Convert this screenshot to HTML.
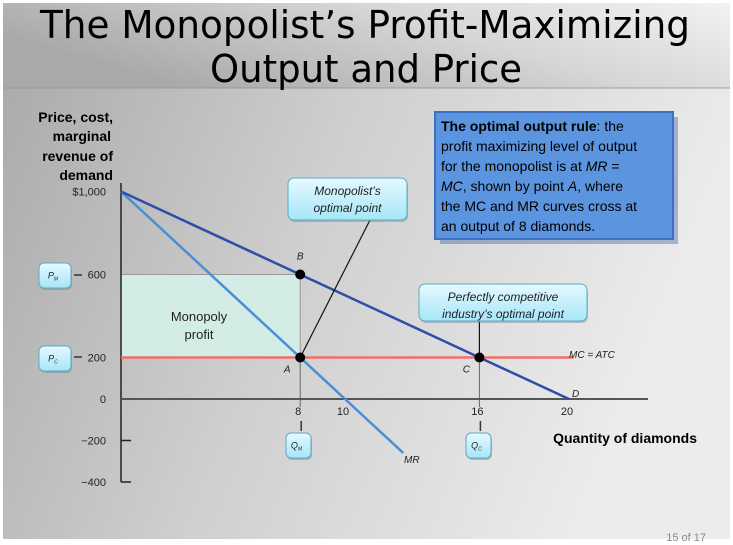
<!DOCTYPE html>
<html><head><meta charset="utf-8"><style>
html,body{margin:0;padding:0;width:733px;height:545px;overflow:hidden;}
svg{display:block;font-family:"Liberation Sans",sans-serif;}
</style></head><body>
<svg id="chart" width="733" height="545" viewBox="0 0 733 545">
<defs>
<linearGradient id="bg" x1="0" y1="0.4" x2="1" y2="0">
<stop offset="0" stop-color="#a9a9a9"/><stop offset="0.55" stop-color="#d6d6d6"/><stop offset="1" stop-color="#f2f2f2"/>
</linearGradient>
<linearGradient id="bg2" x1="0" y1="0" x2="1" y2="0.3">
<stop offset="0" stop-color="#a8a8a8"/><stop offset="0.5" stop-color="#cfcfcf"/><stop offset="1" stop-color="#ececec"/>
</linearGradient>
<linearGradient id="callout" x1="0" y1="0" x2="0" y2="1">
<stop offset="0" stop-color="#e6f9ff"/><stop offset="1" stop-color="#a6e6f8"/>
</linearGradient>
</defs>
<rect x="0" y="0" width="733" height="545" fill="#fff"/>
<rect x="3" y="3" width="727" height="536" fill="url(#bg2)"/>
<rect x="3" y="3" width="727" height="85" fill="url(#bg)"/>
<line x1="3" y1="88" x2="730" y2="88" stroke="#999" stroke-width="1.5" opacity="0.6"/>
<text x="365" y="38" text-anchor="middle" font-family="DejaVu Sans, Liberation Sans, sans-serif" font-size="38" textLength="650" lengthAdjust="spacingAndGlyphs" fill="#000">The Monopolist’s Profit-Maximizing</text>
<text x="366" y="82" text-anchor="middle" font-family="DejaVu Sans, Liberation Sans, sans-serif" font-size="38" textLength="312" lengthAdjust="spacingAndGlyphs" fill="#000">Output and Price</text>

<g font-weight="bold" font-size="14" text-anchor="end" fill="#000">
<text x="113" y="122">Price, cost,</text><text x="111" y="141">marginal</text><text x="113" y="161">revenue of</text><text x="113" y="180">demand</text>
</g>
<text x="697" y="443" font-weight="bold" font-size="14" text-anchor="end">Quantity of diamonds</text>

<g id="plot"></g>

<g>
<rect x="438" y="115" width="238" height="127" fill="#1f4e9a" opacity="0.35" transform="translate(2,2)"/>
<rect x="435" y="112" width="238" height="127" fill="#5b95e0" stroke="#3f6fc0" stroke-width="2"/>
<g font-size="14" fill="#000">
<text x="441" y="131"><tspan font-weight="bold">The optimal output rule</tspan>: the</text>
<text x="441" y="151">profit maximizing level of output</text>
<text x="441" y="171">for the monopolist is at <tspan font-style="italic">MR</tspan> =</text>
<text x="441" y="191"><tspan font-style="italic">MC</tspan>, shown by point <tspan font-style="italic">A</tspan>, where</text>
<text x="441" y="211">the MC and MR curves cross at</text>
<text x="441" y="231">an output of 8 diamonds.</text>
</g></g>
<text x="706" y="541" font-size="11" fill="#888" text-anchor="end">15 of 17</text>
</svg>
<script>
const xTicks=[8,10,16,20];
const yTicks=[1000,600,200,0,-200,-400];
const yTickLabels=["$1,000","600","200","0","−200","−400"];
const demandQ=[0,20];
const demandP=[1000,0];
const mrQ=[0,12.6];
const mrP=[1000,-260];
const mcQ=[0,20.2];
const mcP=[200,200];
const pointNames=["B","A","C"];
const pointQ=[8,8,16];
const pointP=[600,200,200];

const NS="http://www.w3.org/2000/svg";
const X=q=>121+q*22.4;
const Y=p=>399-p*0.2075;
const g=document.getElementById('plot');
function mk(tag,attrs,parent){const e=document.createElementNS(NS,tag);for(const k in attrs)e.setAttribute(k,attrs[k]);(parent||g).appendChild(e);return e;}

// profit area
let r=mk('rect',{x:X(0),y:Y(pointP[0]),width:X(pointQ[0])-X(0),height:Y(pointP[1])-Y(pointP[0]),fill:'#d4ece6',stroke:'#999','stroke-width':1});


let t=mk('text',{x:199,y:321,'font-size':13,'text-anchor':'middle',fill:'#222'});t.textContent='Monopoly';


t=mk('text',{x:199,y:339,'font-size':13,'text-anchor':'middle',fill:'#222'});t.textContent='profit';
// dashed guides
let gl=mk('line',{x1:X(16),y1:Y(200),x2:X(16),y2:Y(0)+8,stroke:'#666','stroke-width':1});


gl=mk('line',{x1:X(8),y1:Y(200),x2:X(8),y2:Y(0)+8,stroke:'#666','stroke-width':1});



// axes
let ax=mk('line',{x1:X(0),y1:183,x2:X(0),y2:Y(-400),stroke:'#222','stroke-width':1.5});


ax=mk('line',{x1:X(0),y1:Y(0),x2:648,y2:Y(0),stroke:'#555','stroke-width':2});


yTicks.forEach((v,i)=>{
  if(v<0){let tk=mk('line',{x1:X(0),y1:Y(v),x2:X(0)+10,y2:Y(v),stroke:'#222','stroke-width':1.5});
  
  }
  let tx=mk('text',{x:106,y:Y(v)+4,'font-size':11,'text-anchor':'end',fill:'#222'});
  tx.textContent=yTickLabels[i];
  
  
});
xTicks.forEach(v=>{
  let tx=mk('text',{x:X(v)-2,y:415,'font-size':11,'text-anchor':'middle',fill:'#222'});
  tx.textContent=String(v);
  
  
});
// lines
let l=mk('line',{x1:X(mcQ[0]),y1:Y(mcP[0]),x2:X(mcQ[1]),y2:Y(mcP[1]),stroke:'#f0706a','stroke-width':2.5});


l=mk('line',{x1:X(mrQ[0]),y1:Y(mrP[0]),x2:X(mrQ[1]),y2:Y(mrP[1]),stroke:'#4a8fd6','stroke-width':2.5});


l=mk('line',{x1:X(demandQ[0]),y1:Y(demandP[0]),x2:X(demandQ[1]),y2:Y(demandP[1]),stroke:'#2f4ea8','stroke-width':2.5});


// line labels
[['MC = ATC',569,358],['D',572,397],['MR',404,463]].forEach(a=>{
  let tx=mk('text',{x:a[1],y:a[2],'font-size':10,'font-style':'italic',fill:'#222'});tx.textContent=a[0];
  
  
});
// callout pointer lines
mk('line',{x1:X(8),y1:Y(200),x2:370,y2:220,stroke:'#111','stroke-width':1.2});
mk('line',{x1:X(16),y1:Y(200),x2:X(16),y2:321,stroke:'#111','stroke-width':1.2});
// points
const offs=[[0,-15],[-13,15],[-13,15]];
pointNames.forEach((n,i)=>{
  let c=mk('circle',{cx:X(pointQ[i]),cy:Y(pointP[i]),r:5,fill:'#000'});
  
  
  let tx=mk('text',{x:X(pointQ[i])+offs[i][0],y:Y(pointP[i])+offs[i][1],'font-size':10,'font-style':'italic','text-anchor':'middle',fill:'#222'});
  tx.textContent=n;
});
// small box labels
function box(x,y,w,h,txt,sub,name){
  const gg=mk('g',{});
  
  
  mk('rect',{x:x+1,y:y+2,width:w,height:h,rx:5,fill:'#7a8a90',opacity:0.5},gg);
  mk('rect',{x:x,y:y,width:w,height:h,rx:5,fill:'url(#callout)',stroke:'#5aaac8','stroke-width':1},gg);
  const tx=mk('text',{x:x+w/2-2,y:y+h/2+3,'font-size':9,'font-style':'italic','text-anchor':'middle',fill:'#222'},gg);
  tx.textContent=txt;
  const s=mk('tspan',{'font-size':5,dy:2},tx);s.textContent=sub;
}
box(39,263,32,25,'P','M','pm-box');
box(39,346,32,25,'P','C','pc-box');
box(286,433,25,25,'Q','M','qm-box');
box(466,433,25,25,'Q','C','qc-box');
[[71,275],[71,357]].forEach(a=>mk('line',{x1:a[0]+3,y1:a[1],x2:a[0]+11,y2:a[1],stroke:'#333','stroke-width':1.5}));
[[X(8)+1,421,431],[X(16)+1,421,431]].forEach(a=>mk('line',{x1:a[0],y1:a[1],x2:a[0],y2:a[2],stroke:'#333','stroke-width':1.5}));
// callouts
function callout(x,y,w,h,lines,name){
  const gg=mk('g',{});
  
  
  mk('rect',{x:x+1,y:y+2,width:w,height:h,rx:6,fill:'#7a8a90',opacity:0.45},gg);
  mk('rect',{x:x,y:y,width:w,height:h,rx:6,fill:'url(#callout)',stroke:'#5aaac8','stroke-width':1},gg);
  lines.forEach((s,i)=>{const tx=mk('text',{x:x+w/2,y:y+17+i*17,'font-size':12,'font-style':'italic','text-anchor':'middle',fill:'#222'},gg);tx.textContent=s;});
}
callout(288,178,119,42,["Monopolist’s","optimal point"],'monopolist-callout');
callout(419,284,168,37,["Perfectly competitive","industry’s optimal point"],'competitive-callout');
</script>
</body></html>
